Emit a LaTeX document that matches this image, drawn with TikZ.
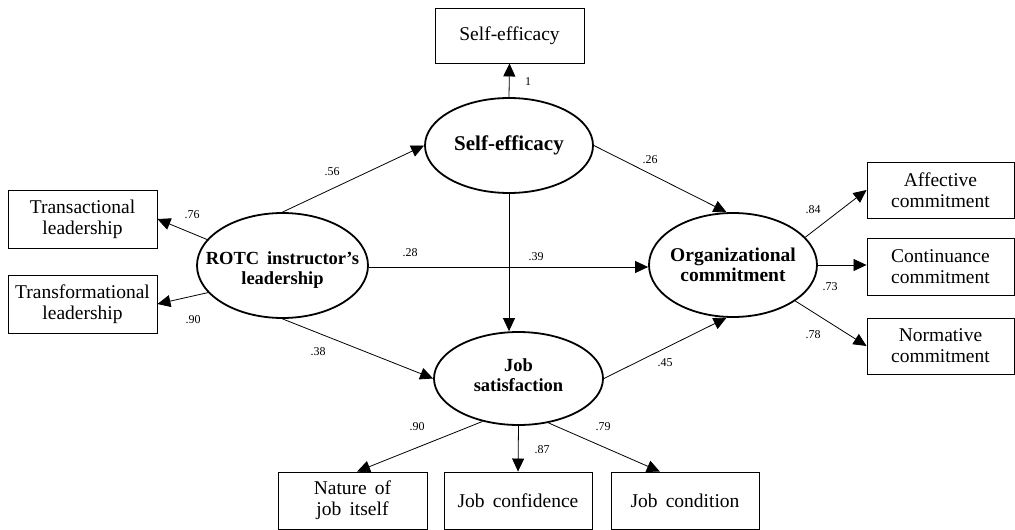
\documentclass[tikz,border=0pt]{standalone}
\usepackage{fontspec}
\setmainfont{Liberation Serif}
\usetikzlibrary{arrows.meta,shapes.geometric}
\begin{document}
\begin{tikzpicture}[x=1pt,y=-1pt,
  box/.style={draw,line width=0.9pt,rectangle,inner sep=0pt,align=center,
    font=\fontsize{19.5}{21}\selectfont},
  lat/.style={draw,line width=1.8pt,ellipse,inner sep=0pt},
  lattext/.style={align=center,inner sep=0pt,font=\bfseries\fontsize{19.5}{20}\selectfont},
  arr/.style={-{Triangle[length=13pt,width=12pt]},line width=0.8pt},
  coef/.style={font=\fontsize{12}{12}\selectfont,inner sep=0pt}]
\useasboundingbox (0,0) rectangle (1015,530);
% latent variables
\node[lat,minimum width=168pt,minimum height=95pt] (se) at (509,145.5) {};
\node[lattext,font=\bfseries\fontsize{21}{22}\selectfont] (seT) at (se.center) {Self-efficacy};
\node[lat,minimum width=171pt,minimum height=105pt] (rotc) at (282.5,265.5) {};
\node[lattext,font=\bfseries\fontsize{18.5}{20}\selectfont] (rotcT) at ([yshift=-5pt]rotc.center) {ROTC\, instructor’s\\leadership};
\node[lat,minimum width=168pt,minimum height=104pt] (oc) at (733,265) {};
\node[lattext] (ocT) at (oc.center) {Organizational\\commitment};
\node[lat,minimum width=169pt,minimum height=93pt] (js) at (518.5,378.5) {};
\node[lattext,font=\bfseries\fontsize{18.5}{20}\selectfont] (jsT) at ([yshift=3pt]js.center) {Job\\satisfaction};
% observed variables
\node[box,minimum width=149pt,minimum height=55pt] (seb) at (509.5,35.5) {Self-efficacy};
\node[box,minimum width=149pt,minimum height=58pt] (tl) at (82.5,219) {Transactional\\leadership};
\node[box,minimum width=149pt,minimum height=58pt] (tf) at (82.5,304) {Transformational\\leadership};
\node[box,minimum width=147pt,minimum height=56pt] (af) at (940.5,190) {Affective\\commitment};
\node[box,minimum width=147pt,minimum height=57pt] (co) at (940.5,266.5) {Continuance\\commitment};
\node[box,minimum width=147pt,minimum height=56pt] (no) at (940.5,346) {Normative\\commitment};
\node[box,minimum width=149pt,minimum height=57pt] (na) at (352.5,500.5) {Nature\, of\\job\, itself};
\node[box,minimum width=148pt,minimum height=57pt] (jc) at (518,500.5) {Job\, confidence};
\node[box,minimum width=148pt,minimum height=57pt] (jd) at (685,500.5) {Job\, condition};
% paths
\draw[arr] (se.north) -- (seb.south);
\draw[arr] (rotc.north) -- (se.west);
\draw[arr] (rotc.161) -- (tl.east);
\draw[arr] (rotc.200) -- (tf.east);
\draw[arr] ([yshift=-1.5pt]rotc.east) -- ([yshift=-1.5pt]rotc.east -| oc.west);
\draw[arr] (rotc.south) -- (js.west);
\draw[arr] (se.east) -- (oc.97);
\draw[arr] (se.south) -- (se.south |- js.north);
\draw[arr] (js.east) -- (oc.263);
\draw[arr] (oc.21) -- (af.west);
\draw[arr] (oc.east) -- (oc.east -| co.west);
\draw[arr] (oc.-30) -- (no.west);
\draw[arr] (js.230) -- (na.81);
\draw[arr] (js.south) -- (jc.north);
\draw[arr] (js.-56) -- (jd.131);
% coefficients
\node[coef] (c1) at (528,82) {1};
\node[coef] (c56) at (332,172) {.56};
\node[coef] (c76) at (192,215) {.76};
\node[coef] (c90a) at (193,320) {.90};
\node[coef] (c28) at (410,253) {.28};
\node[coef] (c38) at (318,352) {.38};
\node[coef] (c39) at (536,257) {.39};
\node[coef] (c26) at (650,160) {.26};
\node[coef] (c45) at (665,363) {.45};
\node[coef] (c84) at (813,210) {.84};
\node[coef] (c73) at (830,287) {.73};
\node[coef] (c78) at (813,335) {.78};
\node[coef] (c90b) at (417,427) {.90};
\node[coef] (c87) at (542,450) {.87};
\node[coef] (c79) at (603,427) {.79};
\end{tikzpicture}
\end{document}
